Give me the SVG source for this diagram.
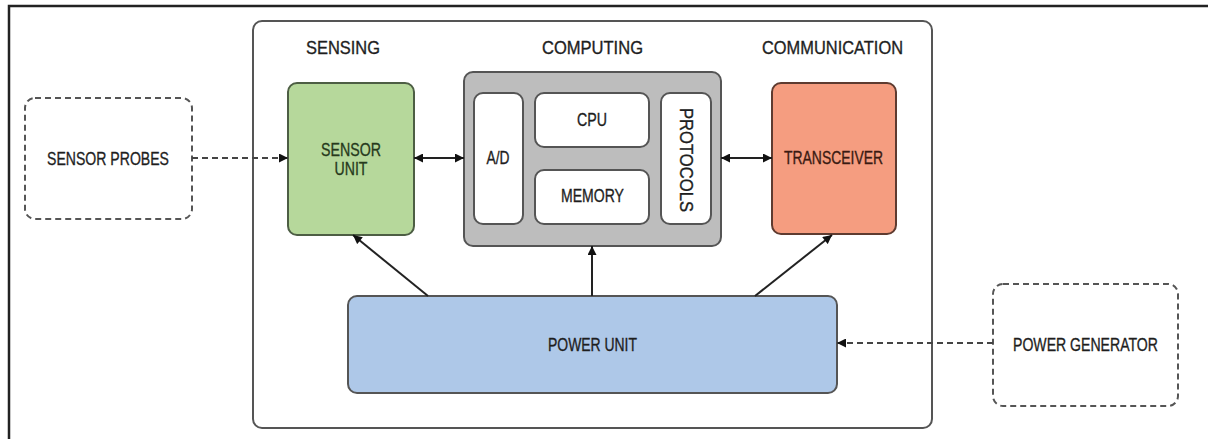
<svg xmlns="http://www.w3.org/2000/svg" width="1208" height="439" viewBox="0 0 1208 439">
<defs>
<marker id="ah" viewBox="0 0 10 10" refX="10" refY="5" markerWidth="10" markerHeight="9" markerUnits="userSpaceOnUse" orient="auto-start-reverse">
<path d="M0,0 L10,5 L0,10 z" fill="#111"/>
</marker>
<style>
text{font-family:"Liberation Sans",Arial,sans-serif;font-size:19px;fill:#1e1e1e;stroke:#1e1e1e;stroke-width:0.35;text-anchor:middle}
.box{stroke:#555;stroke-width:2}
.dash{fill:none;stroke:#555;stroke-width:2;stroke-dasharray:6 4}
.conn{stroke:#222;stroke-width:2;fill:none}
.dconn{stroke:#444;stroke-width:2;fill:none;stroke-dasharray:6 4}
</style>
</defs>
<rect width="1208" height="439" fill="#fff"/>
<path d="M9,439 V6 H1208" fill="none" stroke="#222" stroke-width="2.5"/>
<g id="container">
<rect x="253" y="21" width="679" height="407" rx="9" fill="#fff" stroke="#555" stroke-width="2"/>
<text x="343" y="54" textLength="74" lengthAdjust="spacingAndGlyphs">SENSING</text>
<text x="592.5" y="54" textLength="101" lengthAdjust="spacingAndGlyphs">COMPUTING</text>
<text x="832.5" y="54" textLength="141" lengthAdjust="spacingAndGlyphs">COMMUNICATION</text>
</g>
<g id="sensor-probes">
<rect x="25" y="98" width="167" height="121" rx="10" class="dash"/>
<text x="108" y="165" textLength="122" lengthAdjust="spacingAndGlyphs">SENSOR PROBES</text>
</g>
<g id="sensor-unit">
<rect x="288" y="83" width="126" height="152" rx="9" fill="#b6d89b" stroke="#4d5e44" stroke-width="2"/>
<text x="351" y="156" textLength="60" lengthAdjust="spacingAndGlyphs" style="fill:#263a1c;stroke:#263a1c">SENSOR</text>
<text x="351" y="175" textLength="33" lengthAdjust="spacingAndGlyphs" style="fill:#263a1c;stroke:#263a1c">UNIT</text>
</g>
<g id="computing">
<rect x="464" y="72" width="257" height="174" rx="9" fill="#bdbdbd" stroke="#555" stroke-width="2"/>
</g>
<g id="ad">
<rect x="474" y="93" width="49" height="131" rx="9" fill="#fff" class="box"/>
<text x="498" y="164" textLength="23" lengthAdjust="spacingAndGlyphs">A/D</text>
</g>
<g id="cpu">
<rect x="535" y="93" width="114" height="54" rx="9" fill="#fff" class="box"/>
<text x="592" y="126" textLength="30" lengthAdjust="spacingAndGlyphs">CPU</text>
</g>
<g id="memory">
<rect x="535" y="170" width="114" height="54" rx="9" fill="#fff" class="box"/>
<text x="592.5" y="202" textLength="63" lengthAdjust="spacingAndGlyphs">MEMORY</text>
</g>
<g id="protocols">
<rect x="661" y="93" width="50" height="131" rx="9" fill="#fff" class="box"/>
<text x="0" y="0" transform="translate(680,160) rotate(90)" textLength="104" lengthAdjust="spacingAndGlyphs">PROTOCOLS</text>
</g>
<g id="transceiver">
<rect x="772" y="83" width="124" height="151" rx="9" fill="#f59d80" stroke="#5e3b30" stroke-width="2"/>
<text x="833.5" y="164" textLength="99" lengthAdjust="spacingAndGlyphs" style="fill:#3a1a12;stroke:#3a1a12">TRANSCEIVER</text>
</g>
<g id="power-unit">
<rect x="348" y="296" width="489" height="97" rx="9" fill="#aec8e8" stroke="#555" stroke-width="2"/>
<text x="592.5" y="351" textLength="89" lengthAdjust="spacingAndGlyphs">POWER UNIT</text>
</g>
<g id="power-generator">
<rect x="993" y="284" width="185" height="122" rx="10" class="dash"/>
<text x="1085.5" y="351" textLength="145" lengthAdjust="spacingAndGlyphs">POWER GENERATOR</text>
</g>
<g id="connectors">
<line x1="192" y1="158" x2="288" y2="158" class="dconn" marker-end="url(#ah)"/>
<line x1="414" y1="158" x2="464" y2="158" class="conn" marker-start="url(#ah)" marker-end="url(#ah)"/>
<line x1="721" y1="158" x2="772" y2="158" class="conn" marker-start="url(#ah)" marker-end="url(#ah)"/>
<line x1="428" y1="296" x2="353" y2="235" class="conn" marker-end="url(#ah)"/>
<line x1="592" y1="296" x2="592" y2="246" class="conn" marker-end="url(#ah)"/>
<line x1="755" y1="296" x2="832" y2="235" class="conn" marker-end="url(#ah)"/>
<line x1="993" y1="343" x2="837" y2="343" class="dconn" marker-end="url(#ah)"/>
</g>
</svg>
